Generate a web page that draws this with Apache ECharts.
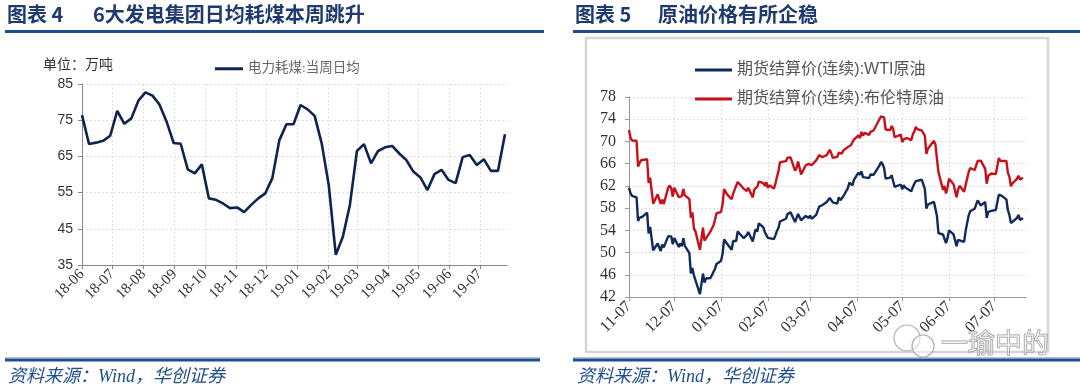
<!DOCTYPE html>
<html>
<head>
<meta charset="utf-8">
<script src="https://cdn.jsdelivr.net/npm/echarts@6/dist/echarts.min.js"></script>
<style>
html,body{margin:0;padding:0;background:#fff;}
#c{width:1080px;height:390px;}
</style>
</head>
<body>
<div id="c"></div>
<script>
// ---------- Chart 4: weekly coal consumption (万吨) ----------
const coalDates = [
 '2018-06-01','2018-06-08','2018-06-15','2018-06-22','2018-06-29',
 '2018-07-06','2018-07-13','2018-07-20','2018-07-27',
 '2018-08-03','2018-08-10','2018-08-17','2018-08-24','2018-08-31',
 '2018-09-07','2018-09-14','2018-09-21','2018-09-28',
 '2018-10-05','2018-10-12','2018-10-19','2018-10-26',
 '2018-11-02','2018-11-09','2018-11-16','2018-11-23','2018-11-30',
 '2018-12-07','2018-12-14','2018-12-21','2018-12-28',
 '2019-01-04','2019-01-11','2019-01-18','2019-01-25',
 '2019-02-01','2019-02-08','2019-02-15','2019-02-22',
 '2019-03-01','2019-03-08','2019-03-15','2019-03-22','2019-03-29',
 '2019-04-05','2019-04-12','2019-04-19','2019-04-26',
 '2019-05-03','2019-05-10','2019-05-17','2019-05-24','2019-05-31',
 '2019-06-07','2019-06-14','2019-06-21','2019-06-28',
 '2019-07-05','2019-07-12','2019-07-19','2019-07-26'
];
const coalValues = [
 76.4,68.4,68.8,69.3,70.7,
 77.6,74.0,75.5,80.4,
 82.7,81.8,79.3,74.6,68.7,
 68.5,61.4,60.3,62.8,
 53.4,53.0,52.0,50.7,
 50.9,49.6,51.6,53.4,54.8,
 59.0,69.5,73.9,73.9,
 79.2,78.0,76.2,68.6,
 57.1,37.8,42.8,51.6,
 66.5,68.4,63.1,66.5,67.5,
 67.9,65.8,64.0,60.8,
 59.2,55.7,60.1,61.3,58.5,
 57.6,64.8,65.4,62.6,
 64.2,61.0,61.0,71.1
];
const coalTicks = ['2018-06-01','2018-07-01','2018-08-01','2018-09-01','2018-10-01','2018-11-01','2018-12-01',
 '2019-01-01','2019-02-01','2019-03-01','2019-04-01','2019-05-01','2019-06-01','2019-07-01'];
const coalName = '电力耗煤:当周日均';

// ---------- Chart 5: crude oil futures settlement ----------
const oilDates = [
 '2018-11-07','2018-11-08','2018-11-09','2018-11-12','2018-11-13','2018-11-14','2018-11-15','2018-11-16','2018-11-19','2018-11-20','2018-11-21','2018-11-23','2018-11-26','2018-11-27','2018-11-28','2018-11-29','2018-11-30',
 '2018-12-03','2018-12-04','2018-12-05','2018-12-06','2018-12-07','2018-12-10','2018-12-11','2018-12-12','2018-12-13','2018-12-14','2018-12-17','2018-12-18','2018-12-19','2018-12-20','2018-12-21','2018-12-24','2018-12-26','2018-12-27','2018-12-28','2018-12-31',
 '2019-01-02','2019-01-03','2019-01-04','2019-01-07','2019-01-08','2019-01-09','2019-01-10','2019-01-11','2019-01-14','2019-01-15','2019-01-16','2019-01-17','2019-01-18','2019-01-22','2019-01-23','2019-01-24','2019-01-25','2019-01-28','2019-01-29','2019-01-30','2019-01-31',
 '2019-02-01','2019-02-04','2019-02-05','2019-02-06','2019-02-07','2019-02-08','2019-02-11','2019-02-12','2019-02-13','2019-02-14','2019-02-15','2019-02-19','2019-02-20','2019-02-21','2019-02-22','2019-02-25','2019-02-26','2019-02-27','2019-02-28',
 '2019-03-01','2019-03-04','2019-03-05','2019-03-06','2019-03-07','2019-03-08','2019-03-11','2019-03-12','2019-03-13','2019-03-14','2019-03-15','2019-03-18','2019-03-19','2019-03-20','2019-03-21','2019-03-22','2019-03-25','2019-03-26','2019-03-27','2019-03-28','2019-03-29',
 '2019-04-01','2019-04-02','2019-04-03','2019-04-04','2019-04-05','2019-04-08','2019-04-09','2019-04-10','2019-04-11','2019-04-12','2019-04-15','2019-04-16','2019-04-17','2019-04-18','2019-04-22','2019-04-23','2019-04-24','2019-04-25','2019-04-26','2019-04-29','2019-04-30',
 '2019-05-01','2019-05-02','2019-05-03','2019-05-06','2019-05-07','2019-05-08','2019-05-09','2019-05-10','2019-05-13','2019-05-14','2019-05-15','2019-05-16','2019-05-17','2019-05-20','2019-05-21','2019-05-22','2019-05-23','2019-05-24','2019-05-28','2019-05-29','2019-05-30','2019-05-31',
 '2019-06-03','2019-06-04','2019-06-05','2019-06-06','2019-06-07','2019-06-10','2019-06-11','2019-06-12','2019-06-13','2019-06-14','2019-06-17','2019-06-18','2019-06-19','2019-06-20','2019-06-21','2019-06-24','2019-06-25','2019-06-26','2019-06-27','2019-06-28',
 '2019-07-01','2019-07-02','2019-07-03','2019-07-05','2019-07-08','2019-07-09','2019-07-10','2019-07-11','2019-07-12','2019-07-15','2019-07-16','2019-07-17','2019-07-18','2019-07-19','2019-07-22','2019-07-23','2019-07-24','2019-07-25','2019-07-26'
];
const wtiValues = [
 61.67,60.67,60.19,59.93,55.69,56.25,56.46,56.46,57.20,53.43,54.63,50.42,51.63,51.56,50.29,51.45,50.93,
 52.95,53.25,52.89,51.49,52.61,51.00,51.65,51.15,52.58,51.20,49.88,46.24,47.20,45.88,45.59,42.53,46.22,44.61,45.33,45.41,
 46.54,47.09,47.96,48.52,49.78,52.36,52.59,51.59,50.51,52.11,52.31,52.07,53.80,52.57,52.62,53.13,53.69,51.99,53.31,54.23,53.79,
 55.26,54.56,53.66,54.01,52.64,52.72,52.41,53.10,53.90,54.41,55.59,56.09,56.92,57.22,57.26,55.48,55.50,56.94,57.22,
 55.80,56.59,56.56,56.22,56.66,56.07,56.79,56.87,58.26,58.61,58.52,59.09,59.03,59.83,59.98,59.04,58.82,59.94,59.41,59.30,60.14,
 61.59,62.58,62.46,62.10,63.08,64.40,63.98,64.61,63.58,63.89,63.40,64.05,63.76,64.00,65.70,66.30,65.89,65.21,63.30,63.50,63.91,
 63.60,61.81,61.94,62.25,61.40,62.12,61.70,61.66,61.04,61.78,62.02,62.87,62.76,63.10,62.99,61.42,57.91,58.63,59.14,58.81,56.59,53.50,
 53.25,53.48,51.68,52.59,53.99,53.26,53.27,51.14,52.28,52.51,51.93,53.90,53.76,56.65,57.43,57.90,57.83,59.38,59.43,58.47,
 59.09,56.25,57.34,57.51,57.66,57.83,60.43,60.20,60.21,59.58,57.62,56.78,55.30,55.63,56.22,56.77,55.88,56.02,56.20
];
const brentValues = [
 72.07,70.65,70.18,70.12,65.47,66.12,66.62,66.76,66.79,62.53,63.48,58.80,60.48,60.21,58.76,59.51,58.71,
 61.69,62.08,61.56,60.06,61.67,59.97,60.20,60.15,61.45,60.28,59.61,56.26,57.24,54.35,53.82,50.47,54.47,52.16,52.20,53.80,
 54.91,55.95,57.06,57.33,58.72,61.44,61.68,60.48,59.59,60.64,61.32,61.18,62.70,61.50,61.14,61.09,61.64,59.93,61.32,61.65,61.89,
 62.75,62.51,61.98,62.69,61.63,62.10,61.51,62.42,63.61,64.57,66.25,66.45,67.08,67.07,67.12,64.76,65.21,66.39,66.31,
 64.07,65.67,65.86,65.99,66.30,65.74,66.58,66.67,67.55,67.23,67.16,67.54,67.61,68.50,67.86,67.03,67.21,67.97,67.83,67.82,68.39,
 69.01,69.37,69.31,69.40,70.34,71.10,70.61,71.73,71.02,71.55,71.18,71.72,71.62,71.97,74.04,74.51,74.57,74.35,72.15,72.04,72.80,
 72.18,70.75,70.85,71.24,69.88,70.37,70.39,70.62,70.23,71.24,71.77,72.62,72.21,71.97,72.18,70.99,67.76,68.69,70.11,69.45,66.87,64.49,
 61.28,61.97,60.63,61.67,63.29,62.29,62.29,59.97,61.31,62.01,60.94,62.14,61.82,64.45,65.20,64.86,65.05,66.49,66.55,66.55,
 65.06,62.40,63.82,64.23,64.11,64.16,67.01,66.52,66.72,66.48,64.35,63.66,61.93,62.47,63.26,63.83,63.18,63.39,63.46
];
const oilTicks = ['2018-11-07','2018-12-07','2019-01-07','2019-02-07','2019-03-07','2019-04-07','2019-05-07','2019-06-07','2019-07-07'];
const wtiName = '期货结算价(连续):WTI原油';
const brentName = '期货结算价(连续):布伦特原油';

// ---------- helpers ----------
function ts(s){ const p = s.split('-').map(Number); return new Date(p[0], p[1]-1, p[2]).getTime(); }
function pad(n){ return (n < 10 ? '0' : '') + n; }
function fmtYM(v){ const d = new Date(v); return pad(d.getFullYear() % 100) + '-' + pad(d.getMonth()+1); }
function fmtMD(v){ const d = new Date(v); return pad(d.getMonth()+1) + '-' + pad(d.getDate()); }
function pairs(dates, vals){ return dates.map((d,i)=>[ts(d), vals[i]]); }

const CJK = "'Noto Sans CJK SC'";
const SERIF = "'Liberation Serif','Noto Sans CJK SC'";
const SANS = "'Liberation Sans','Noto Sans CJK SC'";
const NAVY = '#1f4e8c';
const gridLine = { show: true, lineStyle: { color: '#dedede', width: 1, type: [2, 2] } };

const chart = echarts.init(document.getElementById('c'), null, { renderer: 'canvas' });

const option = {
  animation: false,
  backgroundColor: '#fff',
  grid: [
    { left: 82, right: 1080 - 507, top: 84, bottom: 390 - 265 },
    { left: 629, right: 1080 - 1026, top: 97, bottom: 390 - 297 }
  ],
  xAxis: [
    {
      type: 'value', gridIndex: 0, scale: true,
      min: ts('2018-06-01'), max: ts('2019-07-28'),
      axisLine: { show: true, lineStyle: { color: '#888', width: 1 } },
      axisTick: { show: true, length: 4, lineStyle: { color: '#888' }, customValues: coalTicks.map(ts) },
      axisLabel: { rotate: 45, margin: 7, fontSize: 15, fontFamily: SERIF, color: '#333',
                   customValues: coalTicks.map(ts), formatter: fmtYM, hideOverlap: false },
      splitLine: gridLine
    },
    {
      type: 'value', gridIndex: 1, scale: true,
      min: ts('2018-11-07'), max: ts('2019-07-28'),
      axisLine: { show: true, lineStyle: { color: '#999', width: 1 } },
      axisTick: { show: true, length: 4, lineStyle: { color: '#999' }, customValues: oilTicks.map(ts) },
      axisLabel: { rotate: 45, margin: 7, fontSize: 16, fontFamily: SERIF, color: '#333',
                   customValues: oilTicks.map(ts), formatter: fmtMD, hideOverlap: false },
      splitLine: gridLine
    }
  ],
  yAxis: [
    {
      type: 'value', gridIndex: 0, min: 35, max: 85, interval: 10,
      axisLine: { show: true, lineStyle: { color: '#888', width: 1 } },
      axisTick: { show: true, length: 4, lineStyle: { color: '#888' } },
      axisLabel: { margin: 9, fontSize: 14, fontFamily: SANS, color: '#333' },
      splitLine: gridLine
    },
    {
      type: 'value', gridIndex: 1, min: 42, max: 78, interval: 4,
      axisLine: { show: true, lineStyle: { color: '#999', width: 1 } },
      axisTick: { show: true, length: 4, lineStyle: { color: '#999' } },
      axisLabel: { margin: 13, fontSize: 16, fontFamily: SERIF, color: '#333' },
      splitLine: gridLine
    }
  ],
  legend: [
    {
      left: 210, top: 57, itemWidth: 28, itemHeight: 3, icon: 'rect', itemGap: 10,
      textStyle: { fontSize: 13.5, fontFamily: SERIF, color: '#666' },
      data: [coalName]
    },
    {
      left: 690, top: 57, orient: 'vertical', itemWidth: 37, itemHeight: 3, icon: 'rect', itemGap: 13,
      textStyle: { fontSize: 16, fontFamily: SANS, color: '#555' },
      data: [wtiName, brentName]
    }
  ],
  series: [
    {
      name: coalName, type: 'line', xAxisIndex: 0, yAxisIndex: 0,
      data: pairs(coalDates, coalValues), symbol: 'none', smooth: false,
      lineStyle: { color: '#0f2350', width: 2.6 }, itemStyle: { color: '#0f2350' }
    },
    {
      name: wtiName, type: 'line', xAxisIndex: 1, yAxisIndex: 1,
      data: pairs(oilDates, wtiValues), symbol: 'none',
      lineStyle: { color: '#102a5c', width: 2.4 }, itemStyle: { color: '#102a5c' }
    },
    {
      name: brentName, type: 'line', xAxisIndex: 1, yAxisIndex: 1,
      data: pairs(oilDates, brentValues), symbol: 'none',
      lineStyle: { color: '#c8101a', width: 2.4 }, itemStyle: { color: '#c8101a' }
    }
  ],
  graphic: [
    { type: 'rect', shape: { x: 586, y: 38, width: 462, height: 314 }, style: { fill: 'none', stroke: '#d6d6d6', lineWidth: 2.5 }, z: -1 },
    { type: 'text', x: 7, y: 14, style: { text: '图表 4', fontSize: 20, fontWeight: 'bold', fontFamily: CJK, fill: '#1f3a6e', verticalAlign: 'middle' } },
    { type: 'text', x: 93, y: 14, style: { text: '6大发电集团日均耗煤本周跳升', fontSize: 20, fontWeight: 'bold', fontFamily: CJK, fill: '#1f3a6e', verticalAlign: 'middle' } },
    { type: 'text', x: 575, y: 14, style: { text: '图表 5', fontSize: 20, fontWeight: 'bold', fontFamily: CJK, fill: '#1f3a6e', verticalAlign: 'middle' } },
    { type: 'text', x: 658, y: 14, style: { text: '原油价格有所企稳', fontSize: 20, fontWeight: 'bold', fontFamily: CJK, fill: '#1f3a6e', verticalAlign: 'middle' } },
    { type: 'rect', shape: { x: 5, y: 30, width: 539, height: 3 }, style: { fill: NAVY } },
    { type: 'rect', shape: { x: 573, y: 30, width: 507, height: 3 }, style: { fill: NAVY } },
    { type: 'rect', shape: { x: 5, y: 357, width: 535, height: 1.5 }, style: { fill: '#a9c4e6' } },
    { type: 'rect', shape: { x: 5, y: 358.5, width: 535, height: 3 }, style: { fill: NAVY } },
    { type: 'rect', shape: { x: 573, y: 357, width: 507, height: 1.5 }, style: { fill: '#a9c4e6' } },
    { type: 'rect', shape: { x: 573, y: 358.5, width: 507, height: 3 }, style: { fill: NAVY } },
    { type: 'text', x: 8, y: 377, style: { text: '资料来源：Wind，华创证券', fontSize: 18, fontStyle: 'italic', fontFamily: SERIF, fill: NAVY, verticalAlign: 'middle' } },
    { type: 'text', x: 577, y: 377, style: { text: '资料来源：Wind，华创证券', fontSize: 18, fontStyle: 'italic', fontFamily: SERIF, fill: NAVY, verticalAlign: 'middle' } },
    { type: 'text', x: 43, y: 64, style: { text: '单位：万吨', fontSize: 14, fontFamily: CJK, fill: '#333', verticalAlign: 'middle' } },
    { type: 'circle', shape: { cx: 907, cy: 338, r: 13 }, style: { fill: 'rgba(255,255,255,0.5)', stroke: '#b0b0b0', lineWidth: 1.2 }, z: 100 },
    { type: 'circle', shape: { cx: 923, cy: 346, r: 11 }, style: { fill: 'rgba(255,255,255,0.5)', stroke: '#b0b0b0', lineWidth: 1.2 }, z: 100 },
    { type: 'text', x: 941, y: 343, style: { text: '一瑜中的', fontSize: 27, fontFamily: CJK, fill: 'rgba(255,255,255,0.4)', stroke: '#9a9a9a', lineWidth: 1, verticalAlign: 'middle' }, z: 100 }
  ]
};
chart.setOption(option);
</script>
</body>
</html>
